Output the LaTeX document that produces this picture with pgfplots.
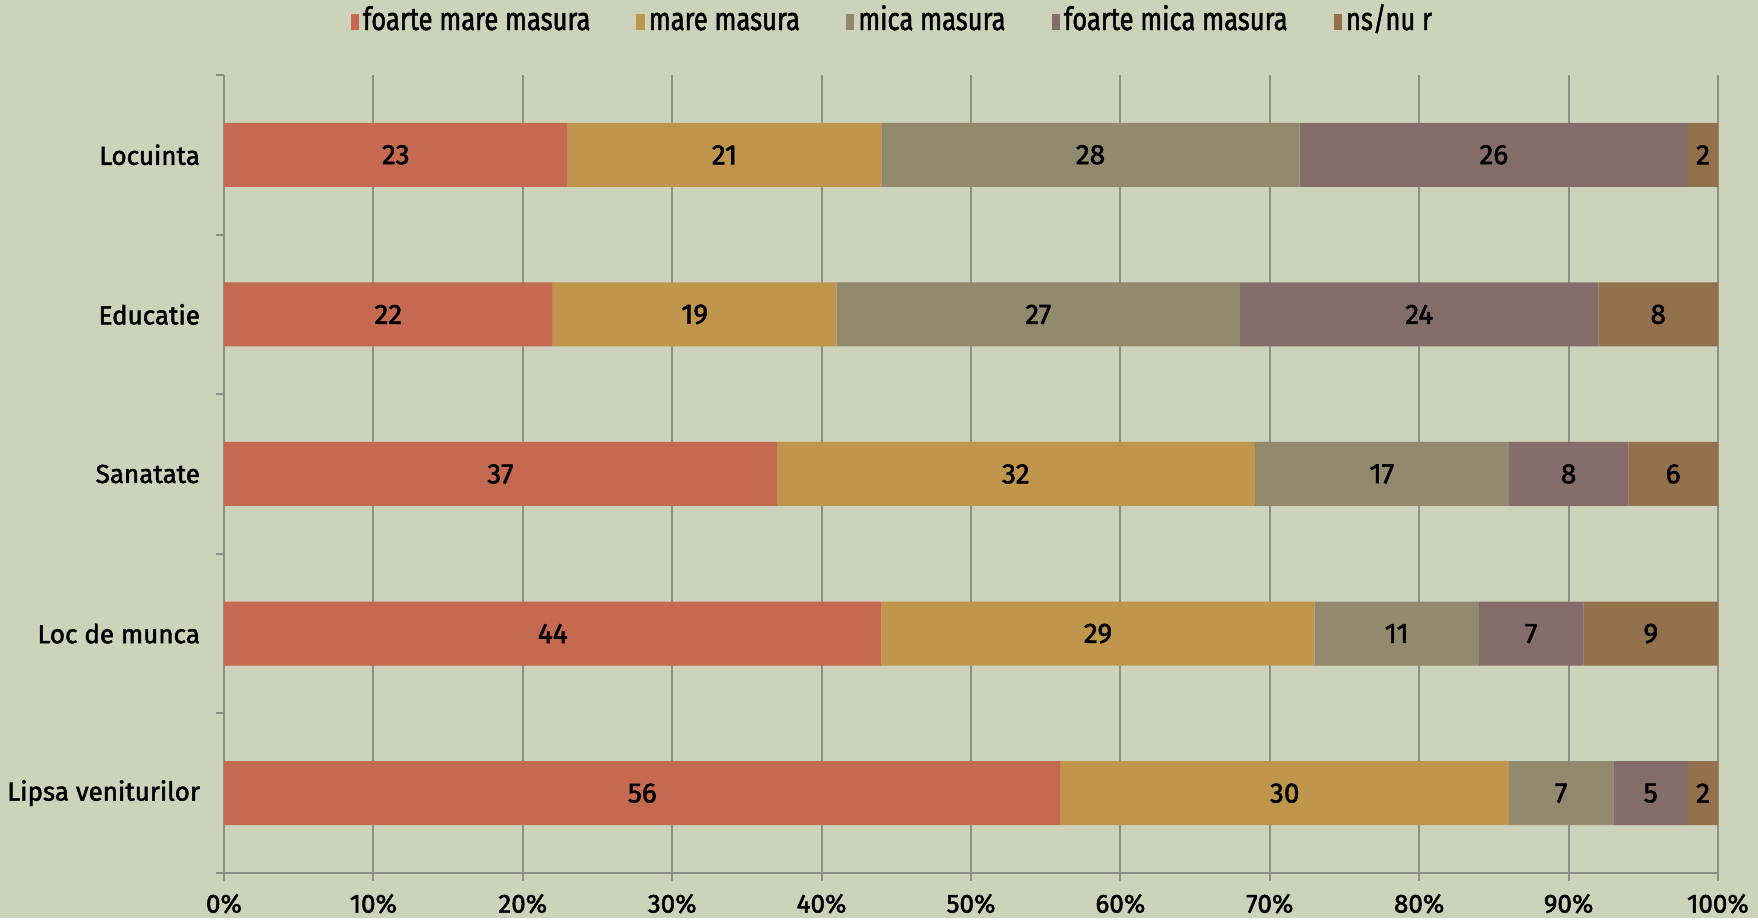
\documentclass[border=0pt]{standalone}
\usepackage{fontspec}
\setmainfont{Fira Sans}[UprightFeatures={FakeBold=2}]
\newfontfamily\legfont{Fira Sans}[FakeStretch=0.8,FakeBold=1.5]
\usepackage{pgfplots}
\pgfplotsset{compat=1.18}
\definecolor{bg}{RGB}{205,210,186}
\definecolor{cA}{RGB}{197,105,80}
\definecolor{cB}{RGB}{192,150,77}
\definecolor{cC}{RGB}{145,138,110}
\definecolor{cD}{RGB}{133,110,106}
\definecolor{cE}{RGB}{147,113,76}
\definecolor{gridc}{RGB}{140,142,135}
\begin{document}
\begin{tikzpicture}
\fill[bg] (-112pt,-22.5pt) rectangle (767pt,436.5pt);
\begin{axis}[
  at={(0,0)}, anchor=south west,
  scale only axis, width=747pt, height=399pt,
  /pgf/number format/assume math mode=true,
  xbar stacked, bar width=32pt,
  xmin=0, xmax=100, ymin=-0.5, ymax=4.5,
  axis x line*=bottom, axis y line*=left,
  axis line style={gridc, line width=1pt, -},
  xmajorgrids, grid style={gridc, line width=1pt},
  xtick={0,10,...,100},
  xticklabel={\pgfmathprintnumber{\tick}\%},
  ytick={0,1,2,3,4},
  yticklabels={Lipsa veniturilor, Loc de munca, Sanatate, Educatie, Locuinta},
  minor ytick={-0.5,0.5,1.5,2.5,3.5,4.5},
  tick align=outside,
  major tick length=4pt, minor tick length=4pt,
  xtick style={gridc, line width=1pt},
  ytick style={draw=none},
  minor y tick style={draw=gridc, line width=1pt},
  tick label style={font=\fontsize{13}{15}\selectfont, text=black},
  xticklabel style={yshift=-3pt},
  yticklabel style={xshift=-4.5pt},
  point meta=explicit,
  nodes near coords,
  every node near coord/.append style={anchor=center, text=black,
     font=\fontsize{14}{16}\selectfont},
  legend style={at={(0.448,1.0664)}, anchor=center, draw=none, fill=none,
     legend columns=-1, font=\legfont\fontsize{16}{18}\selectfont,
     nodes={text height=11pt, text depth=3pt},
     /tikz/every even column/.append style={column sep=21pt},
     /tikz/every odd column/.append style={column sep=0pt}},
  legend image code/.code={\fill[#1,draw=none] (0pt,-4pt) rectangle (4.2pt,4pt);},
]
\addplot[fill=cA, draw=none] coordinates {(56,0)[56] (44,1)[44] (37,2)[37] (22,3)[22] (23,4)[23]};
\addplot[fill=cB, draw=none] coordinates {(30,0)[30] (29,1)[29] (32,2)[32] (19,3)[19] (21,4)[21]};
\addplot[fill=cC, draw=none] coordinates {(7,0)[7] (11,1)[11] (17,2)[17] (27,3)[27] (28,4)[28]};
\addplot[fill=cD, draw=none] coordinates {(5,0)[5] (7,1)[7] (8,2)[8] (24,3)[24] (26,4)[26]};
\addplot[fill=cE, draw=none] coordinates {(2,0)[2] (9,1)[9] (6,2)[6] (8,3)[8] (2,4)[2]};
\legend{foarte mare masura, mare masura, mica masura, foarte mica masura, ns/nu r}
\end{axis}
\end{tikzpicture}
\end{document}
